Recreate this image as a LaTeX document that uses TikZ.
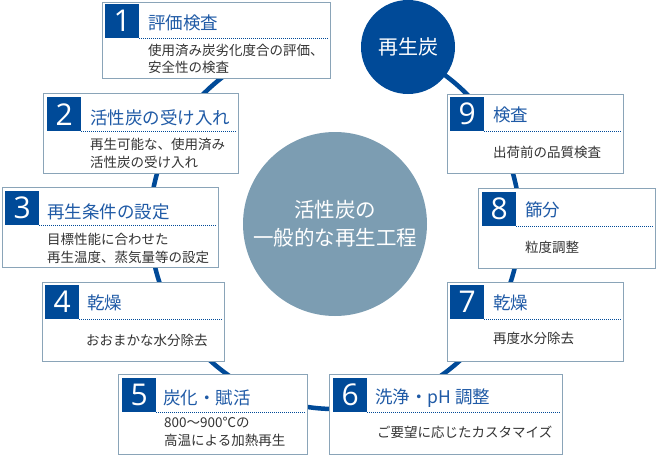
\documentclass[tikz,border=0pt]{standalone}
\usepackage{fontspec}
\setmainfont{Noto Sans CJK JP}
\newfontfamily\numfont{Open Sans}
\definecolor{darkblue}{HTML}{004A98}
\definecolor{titleblue}{HTML}{1F5AA6}
\definecolor{framegray}{HTML}{8AA4B8}
\definecolor{hubgray}{HTML}{7C9DB2}
\definecolor{bodygray}{HTML}{333333}

\begin{document}
\begin{tikzpicture}[x=1pt,y=-1pt,
  frame/.style={draw=framegray, line width=1pt, fill=white, anchor=north west, inner sep=0},
  numsq/.style={fill=darkblue, text=white, minimum size=34, inner sep=0, anchor=north west,
    font=\numfont\fontsize{30}{30}\selectfont},
  title/.style={anchor=west, inner sep=0, text=titleblue, font=\fontsize{17.5}{20}\selectfont},
  body/.style={anchor=west, inner sep=0, align=left, text=bodygray, font=\fontsize{13.5}{17.5}\selectfont},
  dotline/.style={darkblue, line width=1pt, dash pattern=on 1pt off 1pt, shorten >=2pt},
  ring/.style={darkblue, line width=4.5pt}]
\useasboundingbox (0,0) rectangle (657,455);

\node[circle, fill=hubgray, minimum size=184, inner sep=0, text=white, align=center,
  font=\fontsize{20.5}{28}\selectfont] (hub) at (335,224) {活性炭の\\一般的な再生工程};
% ring from regen round to box 1
\draw[ring] ([shift={(-67.6:185)}]hub.center) arc[start angle=-67.6, end angle=259.1, radius=185];
\node[circle, fill=darkblue, minimum size=94, inner sep=0, text=white,
  font=\fontsize{20}{24}\selectfont] (regen) at (408,47) {再生炭};

% 1
\node[frame, minimum width=228, minimum height=76] (b1) at (102,2) {};
\node[numsq] (n1) at (105,4) {1};
\node[title] (t1) at (148,23) {評価検査};
\draw[dotline] (n1.south east) -- (n1.south -| b1.east);
\node[body] (d1) at (148,59) {使用済み炭劣化度合の評価、\\安全性の検査};

% 2
\node[frame, minimum width=195, minimum height=80] (b2) at (43,93) {};
\node[numsq] (n2) at (47,97) {2};
\node[title] (t2) at (90,118) {活性炭の受け入れ};
\draw[dotline] (n2.south east) -- (n2.south -| b2.east);
\node[body] (d2) at (90,153.5) {再生可能な、使用済み\\活性炭の受け入れ};

% 3
\node[frame, minimum width=216, minimum height=80] (b3) at (2,187) {};
\node[numsq] (n3) at (5,191) {3};
\node[title] (t3) at (47,212) {再生条件の設定};
\draw[dotline] (n3.south east) -- (n3.south -| b3.east);
\node[body] (d3) at (47,248.5) {目標性能に合わせた\\再生温度、蒸気量等の設定};

% 4
\node[frame, minimum width=182, minimum height=79] (b4) at (42,282) {};
\node[numsq] (n4) at (45,285) {4};
\node[title] (t4) at (87,303) {乾燥};
\draw[dotline] (n4.south east) -- (n4.south -| b4.east);
\node[body] (d4) at (86,340) {おおまかな水分除去};

% 5
\node[frame, minimum width=189, minimum height=80] (b5) at (118,374) {};
\node[numsq] (n5) at (122,378) {5};
\node[title] (t5) at (163,398) {炭化・賦活};
\draw[dotline] (n5.south east) -- (n5.south -| b5.east);
\node[body] (d5) at (164,432) {800～900℃の\\高温による加熱再生};

% 6
\node[frame, minimum width=233, minimum height=80] (b6) at (329,374) {};
\node[numsq] (n6) at (333,378) {6};
\node[title] (t6) at (375,398) {洗浄・pH 調整};
\draw[dotline] (n6.south east) -- (n6.south -| b6.east);
\node[body] (d6) at (377,432) {ご要望に応じたカスタマイズ};

% 7
\node[frame, minimum width=176, minimum height=79] (b7) at (447,282) {};
\node[numsq] (n7) at (450,285) {7};
\node[title] (t7) at (493,303) {乾燥};
\draw[dotline] (n7.south east) -- (n7.south -| b7.east);
\node[body] (d7) at (493,338) {再度水分除去};

% 8
\node[frame, minimum width=177, minimum height=80] (b8) at (478,188) {};
\node[numsq] (n8) at (482,192) {8};
\node[title] (t8) at (525,210) {篩分};
\draw[dotline] (n8.south east) -- (n8.south -| b8.east);
\node[body] (d8) at (525,247) {粒度調整};

% 9
\node[frame, minimum width=176, minimum height=79] (b9) at (447,94) {};
\node[numsq] (n9) at (450,97) {9};
\node[title] (t9) at (493,115) {検査};
\draw[dotline] (n9.south east) -- (n9.south -| b9.east);
\node[body] (d9) at (493,152) {出荷前の品質検査};
\end{tikzpicture}
\end{document}
